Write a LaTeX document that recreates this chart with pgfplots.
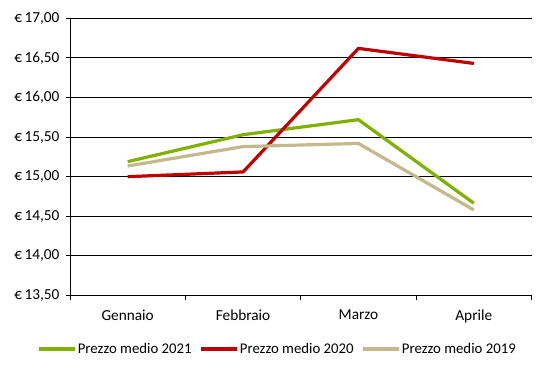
\documentclass[border=0pt]{standalone}
\usepackage{fontspec}
\setmainfont{Carlito}
\usepackage{pgfplots}
\pgfplotsset{compat=1.18}
\definecolor{g21}{RGB}{128,176,0}
\definecolor{r20}{RGB}{192,0,0}
\definecolor{t19}{RGB}{196,185,140}
\begin{document}
\begin{tikzpicture}[font=\fontsize{15.3bp}{18bp}\selectfont]
\path[use as bounding box] (-70bp,-77.5bp) rectangle (480bp,295.5bp);
\begin{axis}[
  at={(0,0)}, anchor=south west,
  scale only axis, width=461.5bp, height=277.2bp,
  xmin=0, xmax=4, ymin=13.5, ymax=17,
  axis x line=bottom, axis y line=left,
  axis line style={-, black, line width=0.9bp},
  xtick={0.5,1.5,2.5,3.5},
  xticklabels={Gennaio,Febbraio,Marzo,Aprile},
  xticklabel style={yshift=-7bp},
  yticklabel style={xshift=-3bp},
  minor xtick={0,1,2,3,4},
  major x tick style={draw=none},
  ytick={13.5,14,14.5,15,15.5,16,16.5,17},
  ymajorgrids, major grid style={black, line width=0.9bp},
  tick align=outside,
  major tick length=4bp, minor tick length=4bp,
  tick style={black, line width=0.9bp},
  /pgf/number format/assume math mode=true,
  yticklabel={€\,\pgfmathprintnumber[fixed,fixed zerofill,precision=2,use comma]{\tick}},
  legend style={draw=none, fill=none, at={(0.449,-0.193)}, anchor=center,
    font=\fontsize{14.8bp}{17bp}\selectfont,
    /tikz/every even column/.append style={column sep=6bp},
    nodes={inner sep=1.5bp}},
  legend columns=3,
  legend image code/.code={\draw[#1] (0bp,0bp) -- (36bp,0bp);},
]
\addplot[g21, line width=3.2bp, line join=round] coordinates {(0.5,15.19) (1.5,15.53) (2.5,15.72) (3.5,14.665)};
\addlegendentry{Prezzo medio 2021}
\addplot[r20, line width=3.2bp, line join=round] coordinates {(0.5,15.00) (1.5,15.06) (2.5,16.62) (3.5,16.43)};
\addlegendentry{Prezzo medio 2020}
\addplot[t19, line width=3.2bp, line join=round] coordinates {(0.5,15.135) (1.5,15.38) (2.5,15.42) (3.5,14.58)};
\addlegendentry{Prezzo medio 2019}
\end{axis}
\end{tikzpicture}
\end{document}
